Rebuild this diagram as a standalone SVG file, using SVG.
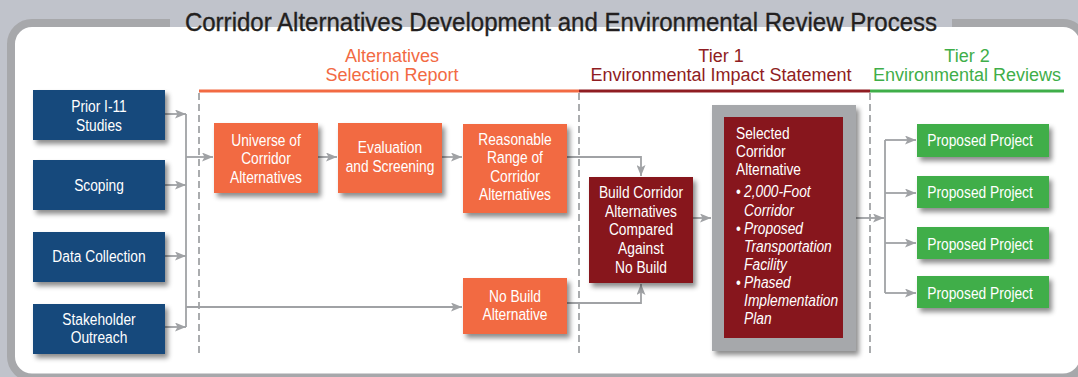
<svg xmlns="http://www.w3.org/2000/svg" width="1078" height="377" viewBox="0 0 1078 377">
<style>
text{font-family:"Liberation Sans",Arial,sans-serif}
.c{transform-box:fill-box;transform-origin:center;transform:scaleX(.81)}
.hd{font-size:18px;text-anchor:middle}
.tt{transform-box:fill-box;transform-origin:center;transform:scaleX(.925);font-size:26px;fill:#231f20;stroke:#231f20;stroke-width:.35;text-anchor:middle}
.nt{font-size:17px;fill:#fff;text-anchor:middle}
.blue{fill:#15497b}
.org{fill:#f26a43}
.red{fill:#87161d}
.grn{fill:#40ae49}
.conn path{fill:none;stroke:#a0a2a5;stroke-width:1.8}
.dash{stroke:#8f9194;stroke-width:1.5;stroke-dasharray:7 4;fill:none}
</style>
<defs>
<filter id="sh" x="-20%" y="-20%" width="150%" height="150%">
<feDropShadow dx="3" dy="4" stdDeviation="2.5" flood-color="#000" flood-opacity="0.45"/>
</filter>
<marker id="ar" markerUnits="userSpaceOnUse" markerWidth="11" markerHeight="9" refX="11" refY="4.5" orient="auto">
<path d="M0,0 L11,4.5 L0,9 L2.5,4.5 z" fill="#a0a2a5"/>
</marker>
</defs>
<rect x="0" y="0" width="1078" height="377" fill="#c0c3cb"/>
<rect x="11" y="23" width="1073" height="354.5" rx="21" fill="#fff" stroke="#a7a8ab" stroke-width="8"/>
<rect x="170" y="17" width="782" height="10" fill="#c0c3cb"/>
<text class="tt" x="561" y="31">Corridor Alternatives Development and Environmental Review Process</text>

<g id="headers">
<text class="hd" fill="#f26a43"><tspan x="392" y="61.5">Alternatives</tspan><tspan x="392" y="81">Selection Report</tspan></text>
<text class="hd" fill="#8f1d22"><tspan x="721" y="61.5">Tier 1</tspan><tspan x="721" y="81">Environmental Impact Statement</tspan></text>
<text class="hd" fill="#3fae49"><tspan x="967" y="61.5">Tier 2</tspan><tspan x="967" y="81">Environmental Reviews</tspan></text>
<rect x="199" y="89.5" width="380" height="3" fill="#f26a43"/>
<rect x="579" y="89.5" width="291" height="3" fill="#8f1d22"/>
<rect x="870" y="89.5" width="194" height="3" fill="#3fae49"/>
<path class="dash" d="M199,93 V357 M579,93 V357 M870,93 V357"/>
</g>

<g class="conn">
<path d="M165,114 H186" marker-end="url(#ar)"/>
<path d="M165,185 H186" marker-end="url(#ar)"/>
<path d="M165,256 H186" marker-end="url(#ar)"/>
<path d="M165,327 H186" marker-end="url(#ar)"/>
<path d="M186,114 V327"/>
<path d="M186,157 H213" marker-end="url(#ar)"/>
<path d="M186,307 H462" marker-end="url(#ar)"/>
<path d="M318,157 H337" marker-end="url(#ar)"/>
<path d="M442,157 H462" marker-end="url(#ar)"/>
<path d="M567,157 H641 V176" marker-end="url(#ar)"/>
<path d="M567,303 H641 V284" marker-end="url(#ar)"/>
<path d="M693,218 H711" marker-end="url(#ar)"/>
<path d="M856,218 H884" marker-end="url(#ar)"/>
<path d="M885,140 V293"/>
<path d="M885,140 H916" marker-end="url(#ar)"/>
<path d="M885,193 H916" marker-end="url(#ar)"/>
<path d="M885,243 H916" marker-end="url(#ar)"/>
<path d="M885,293 H916" marker-end="url(#ar)"/>
</g>

<g id="prior">
<rect class="blue" x="33" y="90" width="132" height="50" filter="url(#sh)"/>
<text class="nt c" x="99"><tspan x="99" y="112.5">Prior I-11</tspan><tspan x="99" y="131">Studies</tspan></text>
</g>
<g id="scoping">
<rect class="blue" x="33" y="160" width="132" height="50" filter="url(#sh)"/>
<text class="nt c" x="99" y="191">Scoping</text>
</g>
<g id="data">
<rect class="blue" x="33" y="232" width="132" height="50" filter="url(#sh)"/>
<text class="nt c" x="99" y="262.5">Data Collection</text>
</g>
<g id="stakeholder">
<rect class="blue" x="33" y="304" width="132" height="50" filter="url(#sh)"/>
<text class="nt c" x="99"><tspan x="99" y="325.5">Stakeholder</tspan><tspan x="99" y="343.5">Outreach</tspan></text>
</g>

<g id="universe">
<rect class="org" x="214" y="123" width="104" height="70" filter="url(#sh)"/>
<text class="nt c" x="266"><tspan x="266" y="146">Universe of</tspan><tspan x="266" y="164.5">Corridor</tspan><tspan x="266" y="183">Alternatives</tspan></text>
</g>
<g id="evaluation">
<rect class="org" x="338" y="123" width="104" height="70" filter="url(#sh)"/>
<text class="nt c" x="390"><tspan x="390" y="153.5">Evaluation</tspan><tspan x="390" y="172">and Screening</tspan></text>
</g>
<g id="reasonable">
<rect class="org" x="463" y="124" width="104" height="89" filter="url(#sh)"/>
<text class="nt c" x="515"><tspan x="515" y="145">Reasonable</tspan><tspan x="515" y="163.5">Range of</tspan><tspan x="515" y="182">Corridor</tspan><tspan x="515" y="200.5">Alternatives</tspan></text>
</g>
<g id="nobuild">
<rect class="org" x="463" y="278" width="104" height="56" filter="url(#sh)"/>
<text class="nt c" x="515"><tspan x="515" y="302">No Build</tspan><tspan x="515" y="320.5">Alternative</tspan></text>
</g>
<g id="build">
<rect class="red" x="589" y="177" width="104" height="106" filter="url(#sh)"/>
<text class="nt c" x="641"><tspan x="641" y="198">Build Corridor</tspan><tspan x="641" y="217">Alternatives</tspan><tspan x="641" y="235.5">Compared</tspan><tspan x="641" y="254">Against</tspan><tspan x="641" y="273">No Build</tspan></text>
</g>

<g id="selected">
<rect x="712" y="105" width="144" height="246" fill="#a6a8ab" filter="url(#sh)"/>
<rect class="red" x="724" y="117" width="119" height="221"/>
<text font-size="17" fill="#fff" transform="translate(736 0) scale(.81 1) translate(-736 0)">
<tspan x="736" y="139">Selected</tspan>
<tspan x="736" y="157">Corridor</tspan>
<tspan x="736" y="175">Alternative</tspan>
<tspan x="736" y="197.5">•</tspan><tspan x="746" y="197.5" font-style="italic">2,000-Foot</tspan>
<tspan x="746" y="216" font-style="italic">Corridor</tspan>
<tspan x="736" y="234">•</tspan><tspan x="746" y="234" font-style="italic">Proposed</tspan>
<tspan x="746" y="252" font-style="italic">Transportation</tspan>
<tspan x="746" y="270" font-style="italic">Facility</tspan>
<tspan x="736" y="288">•</tspan><tspan x="746" y="288" font-style="italic">Phased</tspan>
<tspan x="746" y="306" font-style="italic">Implementation</tspan>
<tspan x="746" y="324" font-style="italic">Plan</tspan>
</text>
</g>

<g id="project1">
<rect class="grn" x="917" y="124" width="132" height="33" filter="url(#sh)"/>
<text class="nt c" x="980" y="146.5">Proposed Project</text>
</g>
<g id="project2">
<rect class="grn" x="917" y="176" width="132" height="32" filter="url(#sh)"/>
<text class="nt c" x="980" y="198.3">Proposed Project</text>
</g>
<g id="project3">
<rect class="grn" x="917" y="227" width="132" height="32" filter="url(#sh)"/>
<text class="nt c" x="980" y="250">Proposed Project</text>
</g>
<g id="project4">
<rect class="grn" x="917" y="276" width="132" height="32" filter="url(#sh)"/>
<text class="nt c" x="980" y="299.3">Proposed Project</text>
</g>
</svg>
